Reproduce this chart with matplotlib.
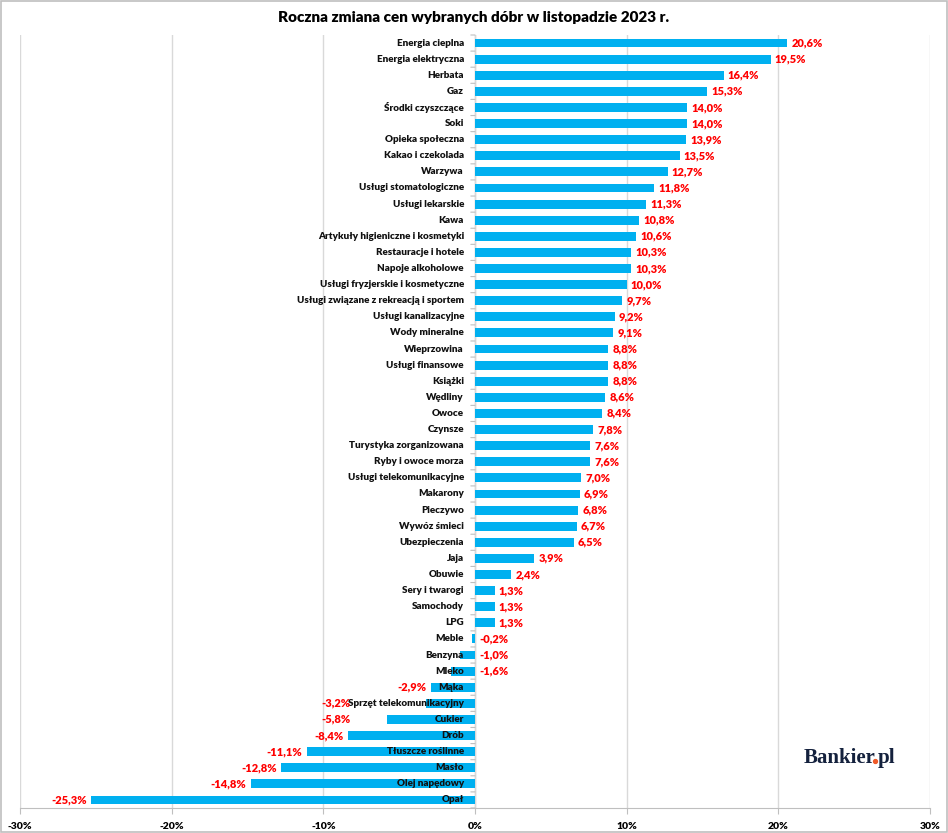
import matplotlib
matplotlib.use('Agg')
import matplotlib.pyplot as plt
from matplotlib.patches import Rectangle
from matplotlib.lines import Line2D
from matplotlib.ticker import FixedLocator, FuncFormatter
import numpy as np

categories = [
    'Energia cieplna', 'Energia elektryczna', 'Herbata', 'Gaz',
    'Środki czyszczące', 'Soki', 'Opieka społeczna', 'Kakao i czekolada',
    'Warzywa', 'Usługi stomatologiczne', 'Usługi lekarskie', 'Kawa',
    'Artykuły higieniczne i kosmetyki', 'Restauracje i hotele',
    'Napoje alkoholowe', 'Usługi fryzjerskie i kosmetyczne',
    'Usługi związane z rekreacją i sportem', 'Usługi kanalizacyjne',
    'Wody mineralne', 'Wieprzowina', 'Usługi finansowe', 'Książki',
    'Wędliny', 'Owoce', 'Czynsze', 'Turystyka zorganizowana',
    'Ryby i owoce morza', 'Usługi telekomunikacyjne', 'Makarony',
    'Pieczywo', 'Wywóz śmieci', 'Ubezpieczenia', 'Jaja', 'Obuwie',
    'Sery i twarogi', 'Samochody', 'LPG', 'Meble', 'Benzyna', 'Mleko',
    'Mąka', 'Sprzęt telekomunikacyjny', 'Cukier', 'Drób',
    'Tłuszcze roślinne', 'Masło', 'Olej napędowy', 'Opał',
]
changes = [
    20.6, 19.5, 16.4, 15.3, 14.0, 14.0, 13.9, 13.5, 12.7, 11.8, 11.3, 10.8,
    10.6, 10.3, 10.3, 10.0, 9.7, 9.2, 9.1, 8.8, 8.8, 8.8, 8.6, 8.4, 7.8,
    7.6, 7.6, 7.0, 6.9, 6.8, 6.7, 6.5, 3.9, 2.4, 1.3, 1.3, 1.3, -0.2,
    -1.0, -1.6, -2.9, -3.2, -5.8, -8.4, -11.1, -12.8, -14.8, -25.3,
]
x_ticks = [-30, -20, -10, 0, 10, 20, 30]

# etykiety przesunięte ręcznie (jak w oryginale)
moved_labels = {'Sprzęt telekomunikacyjny': -8.2, 'Cukier': -8.2}

FONT = 'Lato'
BAR = '#00B0F0'
GRID = '#D9D9D9'
AXIS = '#BFBFBF'
RED = '#FF0000'

fig = plt.figure(figsize=(9.48, 8.33), dpi=100)
ax = fig.add_axes([20 / 948, 1 - 808 / 833, 910 / 948, (808 - 35) / 833])

y = np.arange(len(categories))
ax.barh(y, changes, height=0.55, color=BAR, zorder=2)
ax.set_ylim(len(categories) - 0.5, -0.5)
ax.set_xlim(-30, 30)

ax.xaxis.set_major_locator(FixedLocator(x_ticks))
ax.xaxis.set_major_formatter(FuncFormatter(lambda v, p: '%d%%' % v))
ax.grid(axis='x', color=GRID, linewidth=1.0, zorder=0)
ax.axvline(0, color=AXIS, linewidth=0.9, zorder=1)

for s in ['top', 'left', 'right']:
    ax.spines[s].set_visible(False)
ax.spines['bottom'].set_color(AXIS)
ax.tick_params(axis='x', length=4, color=AXIS, labelsize=7.5, pad=6)
for lab in ax.get_xticklabels():
    lab.set_fontfamily(FONT)
    lab.set_fontweight('heavy')

# etykiety kategorii przy osi zero
ax.set_yticks([])
for i, name in enumerate(categories):
    ax.annotate(name, (0, i), xytext=(-8, 0), textcoords='offset points',
                ha='right', va='center', fontsize=7.1, fontweight='heavy',
                family=FONT, color='#111111', zorder=4)
for b in np.arange(len(categories) + 1) - 0.5:
    ax.annotate('', (0, b), xytext=(-3, 0), textcoords='offset points',
                arrowprops=dict(arrowstyle='-', color=AXIS, lw=0.8,
                                shrinkA=0, shrinkB=0))

# etykiety wartości
for i, (name, v) in enumerate(zip(categories, changes)):
    txt = ('%.1f%%' % v).replace('.', ',')
    kw = dict(textcoords='offset points', va='center', fontsize=8,
              fontweight='heavy', family=FONT, color=RED, zorder=4)
    if v >= 0:
        ax.annotate(txt, (v, i), xytext=(3, 0), ha='left', **kw)
    elif v > -2:
        ax.annotate(txt, (0, i), xytext=(3, 0), ha='left', **kw)
    elif name in moved_labels:
        ax.annotate(txt, (moved_labels[name], i), xytext=(0, 0), ha='right', **kw)
    else:
        ax.annotate(txt, (v, i), xytext=(-3, 0), ha='right', **kw)

fig.text(0.5, 1 - 17 / 833, 'Roczna zmiana cen wybranych dóbr w listopadzie 2023 r.',
         ha='center', va='center', fontsize=11, fontweight='heavy',
         family=FONT, color='#000000')

# logo: "Bankier" + pomarańczowa kropka + "pl"
logo = dict(va='baseline', ha='left', fontsize=15, fontweight='bold',
            family='Liberation Serif', color='#14213D')
lx, ly = 804 / 948, 1 - 763 / 833
fig.canvas.draw()
r = fig.canvas.get_renderer()
t1 = fig.text(lx, ly, 'Bankier', **logo)
x1 = t1.get_window_extent(r).x1
fig.add_artist(Line2D([(x1 - 1.0) / 948], [ly + 2.0 / 833], marker='o',
                      markersize=2.8, color='#F05A28', linestyle='none',
                      transform=fig.transFigure))
fig.text((x1 + 1.5) / 948, ly, 'pl', **logo)

fig.patches.append(Rectangle((0.001, 0.001), 0.998, 0.998, transform=fig.transFigure,
                             fill=False, edgecolor='#BFBFBF', linewidth=1.2))

fig.savefig('out.png', dpi=100, facecolor='white')
